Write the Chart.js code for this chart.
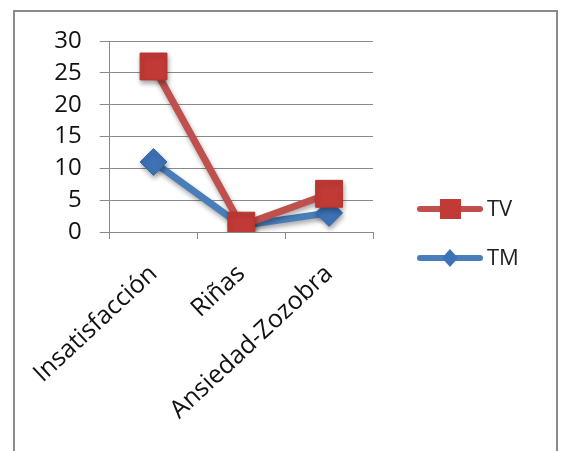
<!DOCTYPE html>
<html>
<head>
<meta charset="utf-8">
<script src="https://cdn.jsdelivr.net/npm/chart.js@4/dist/chart.umd.min.js"></script>
<style>
  html, body { margin: 0; padding: 0; background: #fff; overflow: hidden; }
  #frame {
    position: absolute; left: 13px; top: 10px;
    width: 545px; height: 500px;
    border: 2px solid #8a8a8a; box-sizing: border-box;
  }
  #wrap { position: absolute; left: 0; top: 0; width: 561px; height: 451px; }
</style>
</head>
<body>
<div id="frame"></div>
<div id="wrap"><canvas id="chart" width="561" height="451"></canvas></div>
<script>
// ---- data ----
const categories = ['Insatisfacción', 'Riñas', 'Ansiedad-Zozobra'];
const tvValues   = [26, 1, 6];
const tmValues   = [11, 1, 3];
const yTicks     = [0, 5, 10, 15, 20, 25, 30];

const FONT = '"Open Sans", Lato, sans-serif';
const RED  = '#c0504d';
const BLUE = '#4a7ebb';

// soft drop shadow under lines and markers
const shadowPlugin = {
  id: 'shadow',
  beforeDatasetsDraw(chart) {
    const ctx = chart.ctx;
    ctx.save();
    ctx.shadowColor = 'rgba(0,0,0,0.35)';
    ctx.shadowBlur = 5;
    ctx.shadowOffsetX = 1;
    ctx.shadowOffsetY = 3;
  },
  afterDatasetsDraw(chart) { chart.ctx.restore(); }
};

// line + marker legend, like the office style
const sideLegend = {
  id: 'sideLegend',
  afterDraw(chart) {
    const ctx = chart.ctx;
    chart.data.datasets.forEach((ds, i) => {
      const y = 209 + i * 49;
      ctx.save();
      ctx.strokeStyle = ds.borderColor;
      ctx.lineWidth = 6;
      ctx.lineCap = 'round';
      ctx.beginPath();
      ctx.moveTo(420, y);
      ctx.lineTo(480, y);
      ctx.stroke();
      ctx.fillStyle = ds.pointBackgroundColor;
      ctx.beginPath();
      if (ds.pointStyle === 'rect') {
        ctx.rect(440, y - 10, 21, 20);
      } else {
        ctx.moveTo(450, y - 9); ctx.lineTo(458, y); ctx.lineTo(450, y + 9); ctx.lineTo(442, y);
        ctx.closePath();
      }
      ctx.fill();
      ctx.fillStyle = '#222';
      ctx.font = '22px ' + FONT;
      ctx.textBaseline = 'middle';
      ctx.fillText(ds.label, 487, y + 1);
      ctx.restore();
    });
  }
};

new Chart(document.getElementById('chart').getContext('2d'), {
  type: 'line',
  data: {
    labels: categories,
    datasets: [
      {
        label: 'TV', data: tvValues,
        borderColor: RED, borderWidth: 7,
        pointStyle: 'rect', pointRadius: 19, pointHoverRadius: 19,
        pointBackgroundColor: '#c23a36', pointBorderColor: '#b8342f', pointBorderWidth: 1,
        tension: 0
      },
      {
        label: 'TM', data: tmValues,
        borderColor: BLUE, borderWidth: 7,
        pointStyle: 'rectRot', pointRadius: 13.5, pointHoverRadius: 13.5,
        pointBackgroundColor: '#3d72b6', pointBorderColor: '#386ba9', pointBorderWidth: 1,
        tension: 0
      }
    ]
  },
  options: {
    responsive: false,
    animation: false,
    events: [],
    layout: { padding: { top: 41, right: 188, left: 0, bottom: 0 } },
    plugins: { legend: { display: false }, tooltip: { enabled: false } },
    scales: {
      x: {
        offset: true,
        grid: { offset: true, drawOnChartArea: false, drawTicks: true, tickLength: 7, color: '#8a8a8a' },
        border: { display: true, color: '#8a8a8a' },
        ticks: { color: '#111', font: { family: FONT, size: 25 }, minRotation: 43, maxRotation: 43, padding: 20 },
        afterFit(scale) { scale.height = 219; }
      },
      y: {
        min: 0, max: 30,
        afterBuildTicks(scale) { scale.ticks = yTicks.map(v => ({ value: v })); },
        grid: { color: '#8a8a8a', tickLength: 10 },
        border: { display: true, color: '#8a8a8a' },
        ticks: { color: '#111', font: { family: FONT, size: 24 }, padding: 18 },
        afterFit(scale) { scale.width = 107; }
      }
    }
  },
  plugins: [shadowPlugin, sideLegend]
});
</script>
</body>
</html>
